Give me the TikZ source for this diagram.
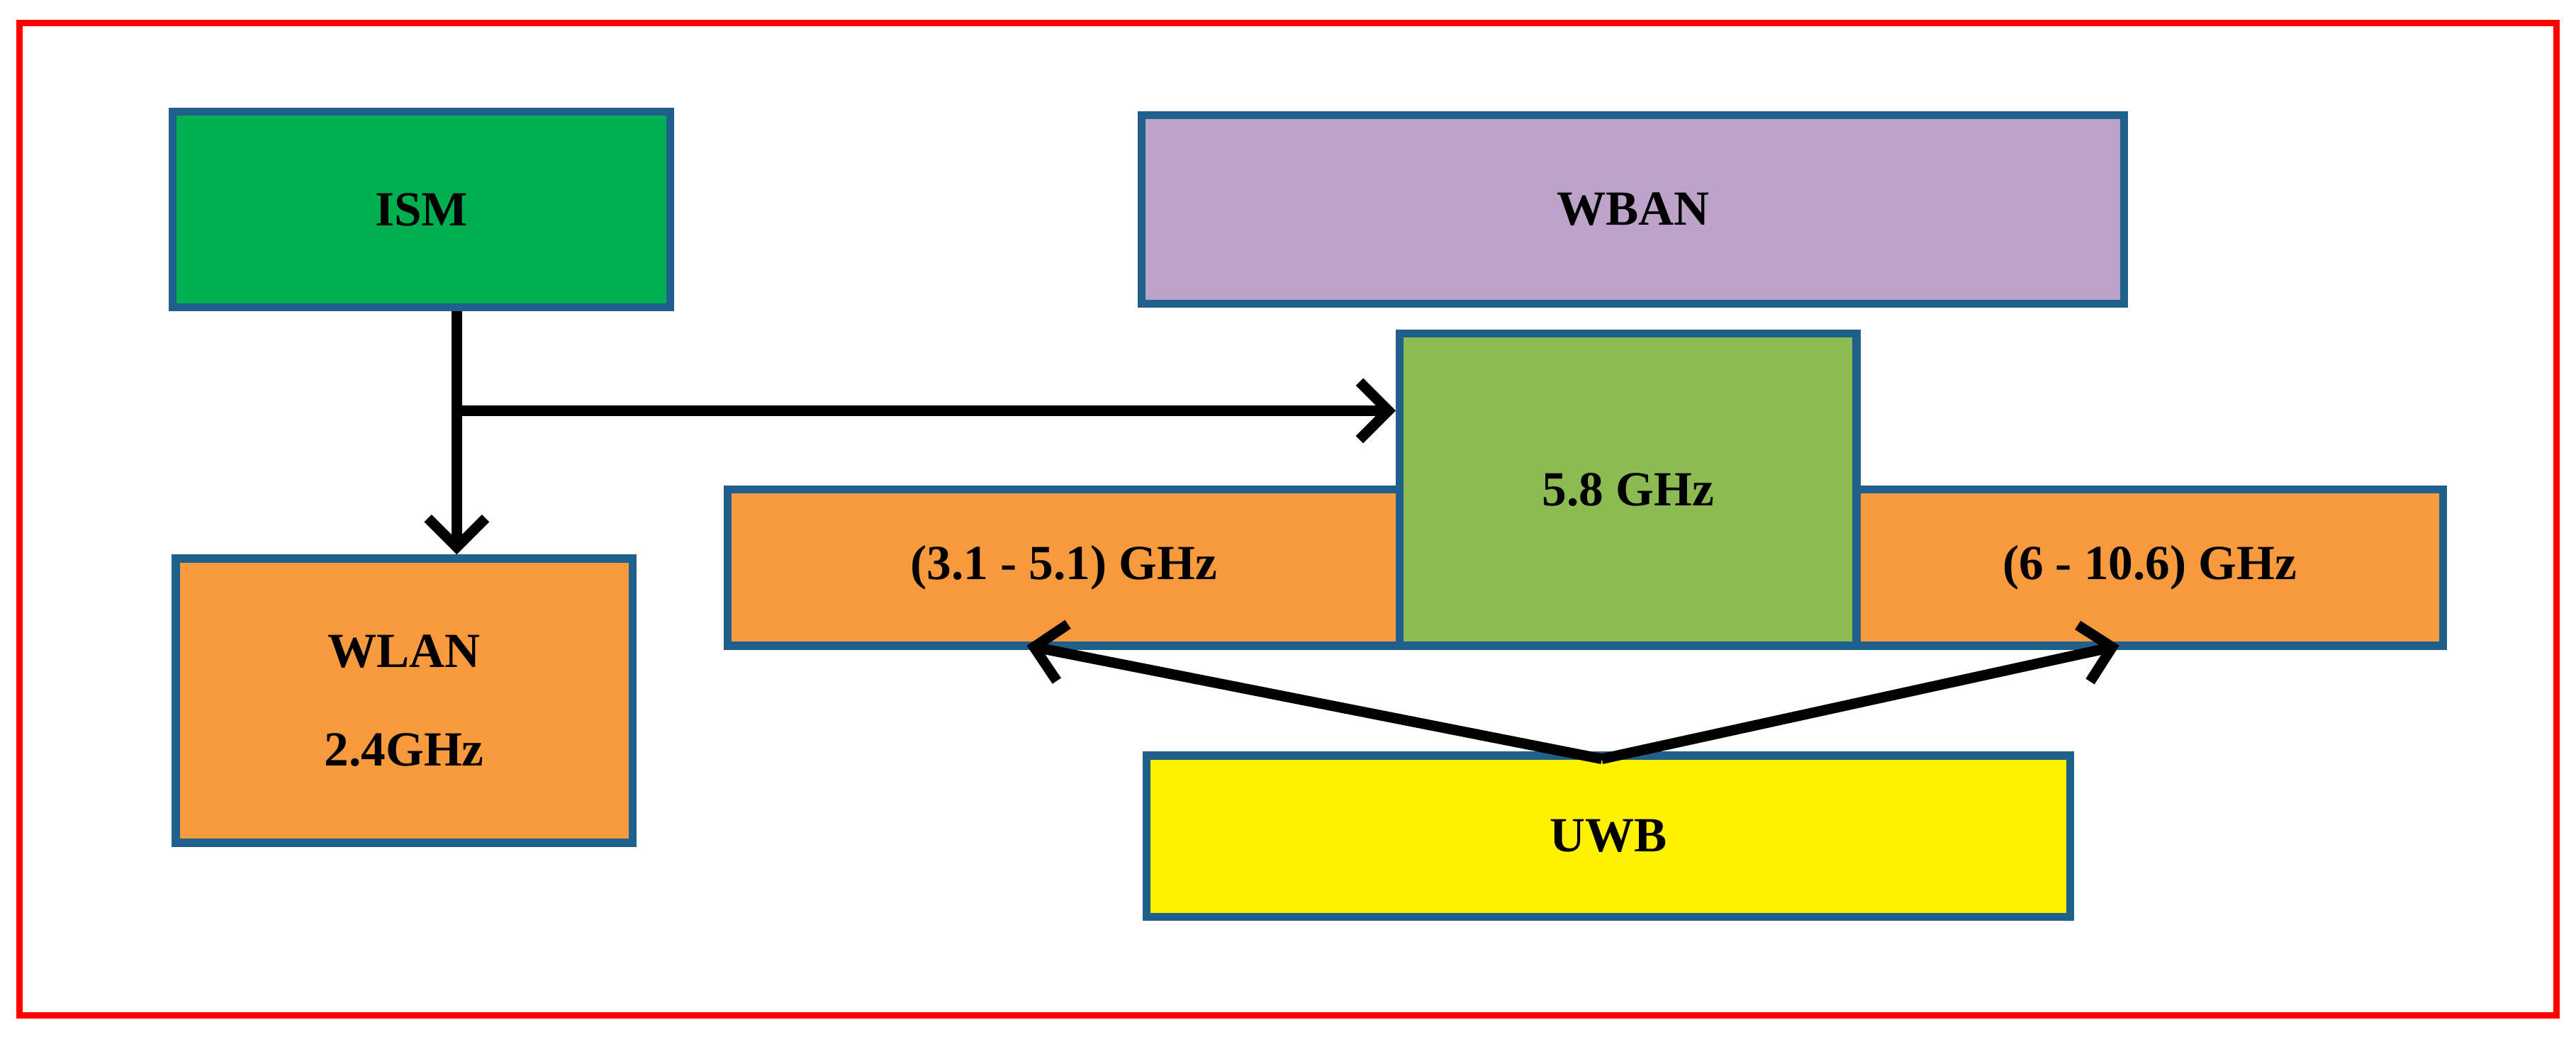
\documentclass[tikz,border=0pt]{standalone}
\usepackage{fontspec}
\setmainfont{Liberation Serif}
\usetikzlibrary{arrows.meta}
\definecolor{bord}{HTML}{1F5F8B}
\definecolor{ismg}{HTML}{00B050}
\definecolor{wban}{HTML}{BBA3C9}
\definecolor{ghz}{HTML}{8EBB51}
\definecolor{org}{HTML}{F79A3E}
\begin{document}
\begin{tikzpicture}[x=0.02cm,y=-0.02cm,
  box/.style={draw=bord,line width=2.8pt,inner sep=0pt,font=\bfseries\fontsize{17}{34}\selectfont,align=center},
  arr/.style={line width=3.6pt,-{Straight Barb[length=10pt,width=20pt,line width=3.6pt]}}]
\useasboundingbox (0,0) rectangle (1568,631);
\draw[red,line width=2.3pt] (12,14) rectangle (1556,618);
\node[box,fill=ismg,minimum width=303*0.02cm,minimum height=119*0.02cm] (ism) at (256.5,127.5) {ISM};
\node[box,fill=wban,minimum width=598*0.02cm,minimum height=115*0.02cm] (wban) at (994,127.5) {WBAN};
\node[box,fill=org,minimum width=409*0.02cm,minimum height=95*0.02cm] (lo) at (647.5,345.5) {(3.1 - 5.1) GHz};
\node[box,fill=org,minimum width=357*0.02cm,minimum height=95*0.02cm] (hi) at (1308.5,345.5) {(6 - 10.6) GHz};
\node[box,fill=ghz,minimum width=278*0.02cm,minimum height=190*0.02cm] (g58) at (991,298) {5.8 GHz};
\node[box,fill=org,minimum width=278*0.02cm,minimum height=173*0.02cm] (wlan) at (246,426.5) {WLAN\\2.4GHz};
\node[box,fill=yellow,minimum width=562*0.02cm,minimum height=98*0.02cm] (uwb) at (979,509) {UWB};
\coordinate (br) at (278,250);
\coordinate (tip) at (975,462);
\draw[arr] (ism.south -| br) -- (wlan.north -| br);
\draw[arr] (br) -- (br -| g58.west);
\draw[arr] (tip) -- (625,393);
\draw[arr] (tip) -- (1290,393);
\end{tikzpicture}
\end{document}
